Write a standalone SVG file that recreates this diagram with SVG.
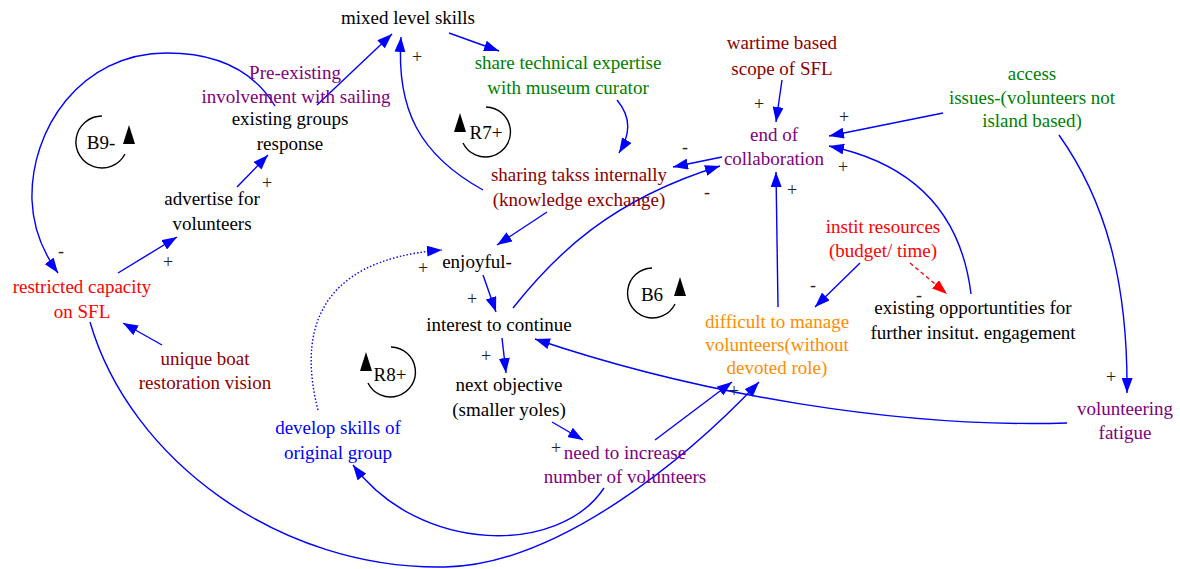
<svg xmlns="http://www.w3.org/2000/svg" width="1180" height="569" viewBox="0 0 1180 569">
  <style>
    text { font-family: "Liberation Serif", "Times New Roman", serif; font-size: 19px; text-anchor: middle; }
    .blk { fill: #000000; }
    .grn { fill: #008000; }
    .drd { fill: #8b0000; }
    .pur { fill: #800080; }
    .red { fill: #ff0000; }
    .blu { fill: #0000ff; }
    .org { fill: #ff8c00; }
    .sign { font-size: 18px; fill: #222222; }
    .edge { fill: none; stroke: #0000ff; stroke-width: 1.4; marker-end: url(#ah); }
    .dot { stroke-dasharray: 1.5 2; }
    .redge { fill: none; stroke: #ff0000; stroke-width: 1.4; stroke-dasharray: 4 3; marker-end: url(#ahr); }
    .loop { fill: none; stroke: #000000; stroke-width: 1.4; }
  </style>
  <defs>
    <marker id="ah" viewBox="0 0 15 11" refX="15" refY="5.5" markerWidth="15" markerHeight="11" markerUnits="userSpaceOnUse" orient="auto">
      <path d="M0,0 L15,5.5 L0,11 z" fill="#0000ff"/>
    </marker>
    <marker id="ahr" viewBox="0 0 15 11" refX="15" refY="5.5" markerWidth="15" markerHeight="11" markerUnits="userSpaceOnUse" orient="auto">
      <path d="M0,0 L15,5.5 L0,11 z" fill="#ff0000"/>
    </marker>
  </defs>
  <rect width="1180" height="569" fill="#ffffff"/>

  <!-- connectors -->
  <g id="connectors">
    <path class="edge" d="M237,187 L268,155"/>
    <path class="edge" d="M317,105 L392,34"/>
    <path class="edge" d="M449,33 L499,51"/>
    <path class="edge" d="M617,100 C632,118 630,135 619,153"/>
    <path class="edge" d="M483,190 C420,155 396,110 401,37"/>
    <path class="edge" d="M722,157 L673,167"/>
    <path class="edge" d="M513,308 C555,255 610,200 720,166"/>
    <path class="edge" d="M782,80 L776,122"/>
    <path class="edge" d="M943,113 L829,136"/>
    <path class="edge" d="M971,294 C962,220 920,165 829,146"/>
    <path class="edge" d="M778,307 L776,172"/>
    <path class="edge" d="M860,263 L815,307"/>
    <path class="redge" d="M910,263 L947,294"/>
    <path class="edge" d="M1059,135 C1105,200 1128,280 1127,393"/>
    <path class="edge" d="M1067,423 C900,428 700,395 535,339"/>
    <path class="edge" d="M547,212 L497,245"/>
    <path class="edge" d="M483,275 L496,312"/>
    <path class="edge" d="M502,338 L506,373"/>
    <path class="edge" d="M552,422 L583,440"/>
    <path class="edge" d="M655,440 L732,382"/>
    <path class="edge" d="M604,488 C560,555 420,555 353,465"/>
    <path class="edge" d="M90,322 C130,460 280,570 445,567 C560,565 690,455 759,382"/>
    <path class="edge dot" d="M318,410 C300,340 310,260 442,250"/>
    <path class="edge" d="M118,273 L177,237"/>
    <path class="edge" d="M162,345 L123,323"/>
    <path class="edge" d="M275,106 C250,65 210,53 167,53 C80,53 30,130 32,200 C33,230 45,255 58,273"/>

    <!-- polarity signs -->
    <text class="sign" x="267" y="189">+</text>
    <text class="sign" x="417" y="63">+</text>
    <text class="sign" x="759" y="110">+</text>
    <text class="sign" x="685" y="153">-</text>
    <text class="sign" x="707" y="198">-</text>
    <text class="sign" x="844" y="123">+</text>
    <text class="sign" x="843" y="173">+</text>
    <text class="sign" x="792" y="196">+</text>
    <text class="sign" x="813" y="291">-</text>
    <text class="sign" x="919" y="301">-</text>
    <text class="sign" x="1111" y="383">+</text>
    <text class="sign" x="423" y="274">+</text>
    <text class="sign" x="472" y="305">+</text>
    <text class="sign" x="486" y="362">+</text>
    <text class="sign" x="556" y="454">+</text>
    <text class="sign" x="734" y="397">+</text>
    <text class="sign" x="168" y="268">+</text>
    <text class="sign" x="61" y="257">-</text>
  </g>

  <!-- loop markers -->
  <g id="loop-B9">
    <path class="loop" d="M102,116 A26,26 0 1 0 125,154"/>
    <path d="M129,125 L135,144 L123,144 z" fill="#000000"/>
    <text class="blk" x="101" y="149">B9-</text>
  </g>
  <g id="loop-R7">
    <path class="loop" d="M486,107 A25,25 0 1 1 463,143"/>
    <path d="M460,113 L466,132 L454,132 z" fill="#000000"/>
    <text class="blk" x="486" y="139">R7+</text>
  </g>
  <g id="loop-B6">
    <path class="loop" d="M652,268 A25,25 0 1 0 675,304"/>
    <path d="M680,277 L686,296 L674,296 z" fill="#000000"/>
    <text class="blk" x="652" y="301">B6</text>
  </g>
  <g id="loop-R8">
    <path class="loop" d="M391,347 A25,25 0 1 1 368,383"/>
    <path d="M366,352 L372,371 L360,371 z" fill="#000000"/>
    <text class="blk" x="390" y="381">R8+</text>
  </g>

  <!-- nodes -->
  <g id="mixed-level-skills"><text class="blk" x="408" y="24">mixed level skills</text></g>
  <g id="share-expertise">
    <text class="grn" x="568" y="69">share technical expertise</text>
    <text class="grn" x="568" y="94">with museum curator</text>
  </g>
  <g id="wartime-scope">
    <text class="drd" x="782" y="49">wartime based</text>
    <text class="drd" x="782" y="75">scope of SFL</text>
  </g>
  <g id="access-issues">
    <text class="grn" x="1032" y="80">access</text>
    <text class="grn" x="1032" y="104">issues-(volunteers not</text>
    <text class="grn" x="1032" y="127">island based)</text>
  </g>
  <g id="end-of-collaboration">
    <text class="pur" x="774" y="141">end of</text>
    <text class="pur" x="774" y="165">collaboration</text>
  </g>
  <g id="pre-existing">
    <text class="pur" x="295" y="79">Pre-existing</text>
    <text class="pur" x="296" y="103">involvement with sailing</text>
  </g>
  <g id="existing-groups">
    <text class="blk" x="290" y="125">existing groups</text>
    <text class="blk" x="290" y="150">response</text>
  </g>
  <g id="advertise">
    <text class="blk" x="212" y="205">advertise for</text>
    <text class="blk" x="212" y="230">volunteers</text>
  </g>
  <g id="sharing-tasks">
    <text class="drd" x="579" y="181">sharing takss internally</text>
    <text class="drd" x="579" y="206">(knowledge exchange)</text>
  </g>
  <g id="enjoyful"><text class="blk" x="477" y="268">enjoyful-</text></g>
  <g id="interest"><text class="blk" x="499" y="331">interest to continue</text></g>
  <g id="next-objective">
    <text class="blk" x="509" y="391">next objective</text>
    <text class="blk" x="509" y="416">(smaller yoles)</text>
  </g>
  <g id="need-volunteers">
    <text class="pur" x="625" y="459">need to increase</text>
    <text class="pur" x="625" y="483">number of volunteers</text>
  </g>
  <g id="develop-skills">
    <text class="blu" x="338" y="434">develop skills of</text>
    <text class="blu" x="338" y="459">original group</text>
  </g>
  <g id="restricted-capacity">
    <text class="red" x="82" y="293">restricted capacity</text>
    <text class="red" x="82" y="318">on SFL</text>
  </g>
  <g id="unique-boat">
    <text class="drd" x="205" y="365">unique boat</text>
    <text class="drd" x="205" y="389">restoration vision</text>
  </g>
  <g id="instit-resources">
    <text class="red" x="883" y="233">instit resources</text>
    <text class="red" x="883" y="257">(budget/ time)</text>
  </g>
  <g id="existing-opportunities">
    <text class="blk" x="973" y="314">existing opportuntities for</text>
    <text class="blk" x="973" y="339">further insitut. engagement</text>
  </g>
  <g id="difficult-to-manage">
    <text class="org" x="777" y="328">difficult to manage</text>
    <text class="org" x="777" y="351">volunteers(without</text>
    <text class="org" x="777" y="374">devoted role)</text>
  </g>
  <g id="volunteering-fatigue">
    <text class="pur" x="1125" y="415">volunteering</text>
    <text class="pur" x="1125" y="439">fatigue</text>
  </g>
</svg>
